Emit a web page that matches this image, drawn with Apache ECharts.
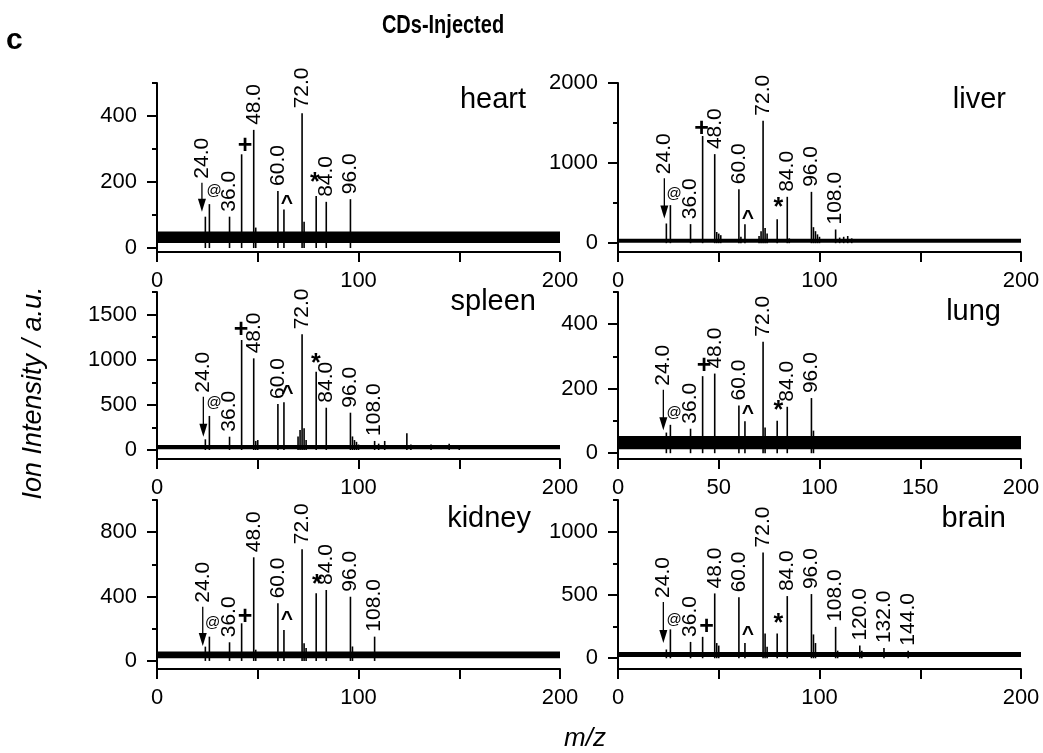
<!DOCTYPE html>
<html><head><meta charset="utf-8">
<script src="https://cdn.jsdelivr.net/npm/echarts@6/dist/echarts.min.js"></script>
<style>html,body{margin:0;padding:0;background:#fff}#c{width:1043px;height:753px}</style>
</head><body><div id="c"></div>
<script>
// ---------------- data ----------------
const panelNames = ['heart', 'liver', 'spleen', 'lung', 'kidney', 'brain'];
const titleText = 'CDs-Injected';
const panelLetter = 'c';
const yAxisTitle = 'Ion Intensity / a.u.';
const xAxisTitle = 'm/z';

const xTicks = [0, 50, 100, 150, 200];
const xLabelsStd = [0, 100, 200];
const xLabelsLung = [0, 50, 100, 150, 200];

// [m/z, intensity]
const heartPeaks = [[24,95],[26,133],[36,95],[42,284],[48,358],[49,62],[60,173],[63,117],[72,408],[73,80],[79,158],[84,140],[96,148]];
const liverPeaks = [[24,246],[26,475],[36,238],[42,1338],[48,1112],[49,140],[50,120],[51,100],[60,675],[61,80],[63,238],[70,90],[71,150],[72,1529],[73,190],[74,120],[79,300],[84,579],[85,60],[96,641],[97,200],[98,150],[99,110],[100,80],[108,171],[110,70],[112,80],[114,90],[116,60]];
const spleenPeaks = [[24,118],[26,377],[36,147],[42,1218],[48,1015],[49,100],[50,110],[60,509],[63,528],[70,150],[71,220],[72,1281],[73,240],[74,110],[79,867],[84,468],[96,413],[97,150],[98,110],[99,90],[100,60],[108,100],[110,70],[113,100],[124,185],[126,60],[136,60],[145,70],[150,50]];
const lungPeaks = [[24,64],[26,88],[36,76],[42,239],[48,247],[60,148],[63,99],[72,346],[73,80],[79,101],[84,144],[96,171],[97,70]];
const kidneyPeaks = [[24,89],[26,151],[36,116],[42,234],[48,644],[49,70],[60,358],[63,193],[72,694],[73,110],[74,80],[79,420],[84,441],[96,399],[97,90],[108,151]];
const brainPeaks = [[24,69],[26,228],[36,129],[42,169],[48,512],[49,120],[50,100],[60,481],[63,121],[72,836],[73,196],[74,90],[79,196],[84,491],[96,507],[97,188],[98,120],[108,248],[109,60],[120,100],[121,60],[132,80],[144,60]];

// labelled peaks (m/z)
const heartLabelled = [36,48,60,72,84,96];
const liverLabelled = [36,48,60,72,84,96,108];
const spleenLabelled = [36,48,60,72,84,96,108];
const lungLabelled = [36,48,60,72,84,96];
const kidneyLabelled = [36,48,60,72,84,96,108];
const brainLabelled = [36,48,60,72,84,96,108,120,132,144];

// marker symbols [m/z, intensity, symbol]
const heartMarks = [[28.3,174,'@'],[43.7,309,'+'],[64.4,136,'^'],[78.4,197,'*']];
const liverMarks = [[27.8,621,'@'],[41.5,1421,'+'],[64.4,316,'^'],[79.6,434,'*']];
const spleenMarks = [[28.3,517,'@'],[41.7,1329,'+'],[64.7,628,'^'],[78.8,952,'*']];
const lungMarks = [[27.8,126,'@'],[42.7,270,'+'],[64.4,124,'^'],[79.6,131,'*']];
const kidneyMarks = [[27.6,234,'@'],[43.7,275,'+'],[64.4,259,'^'],[79.3,472,'*']];
const brainMarks = [[27.8,301,'@'],[44,248,'+'],[64.4,190,'^'],[79.6,269,'*']];

// arrow [m/z, tail intensity, tip intensity, label]
const heartArrow = [22.3,198,110,'24.0'];
const liverArrow = [23,812,309,'24.0'];
const spleenArrow = [23,590,147,'24.0'];
const lungArrow = [22.5,197,71,'24.0'];
const kidneyArrow = [22.7,337,93,'24.0'];
const brainArrow = [22.5,445,121,'24.0'];

// baseline noise band [low, high]
const heartNoise = [15,50];
const liverNoise = [5,55];
const spleenNoise = [8,55];
const lungNoise = [12,53];
const kidneyNoise = [17,58];
const brainNoise = [10,50];

// y ranges and ticks
const heartY = [-12,500], heartYMajor = [0,200,400], heartYMinor = [100,300,500];
const liverY = [-110,2000], liverYMajor = [0,1000,2000], liverYMinor = [500,1500];
const spleenY = [-100,1750], spleenYMajor = [0,500,1000,1500], spleenYMinor = [250,750,1250,1750];
const lungY = [-18,500], lungYMajor = [0,200,400], lungYMinor = [100,300,500];
const kidneyY = [-50,1000], kidneyYMajor = [0,400,800], kidneyYMinor = [200,600,1000];
const brainY = [-85,1250], brainYMajor = [0,500,1000], brainYMinor = [250,750,1250];

// ---------------- layout ----------------
const FONT = 'Arial, "Liberation Sans", Helvetica, sans-serif';
const FS = 22;     // tick labels
const PFS = 21;    // peak labels
const NFS = 29;    // panel names
const TFS = 27;    // axis title
const colLeft = [157, 618];
const rowTop = [83, 292, 500];
const rowH = [169, 167, 169];
const gridW = 403;

const panels = [
  {peaks: heartPeaks, lab: heartLabelled, marks: heartMarks, arrow: heartArrow, noise: heartNoise, y: heartY, maj: heartYMajor, min: heartYMinor, xl: xLabelsStd},
  {peaks: liverPeaks, lab: liverLabelled, marks: liverMarks, arrow: liverArrow, noise: liverNoise, y: liverY, maj: liverYMajor, min: liverYMinor, xl: xLabelsStd},
  {peaks: spleenPeaks, lab: spleenLabelled, marks: spleenMarks, arrow: spleenArrow, noise: spleenNoise, y: spleenY, maj: spleenYMajor, min: spleenYMinor, xl: xLabelsStd},
  {peaks: lungPeaks, lab: lungLabelled, marks: lungMarks, arrow: lungArrow, noise: lungNoise, y: lungY, maj: lungYMajor, min: lungYMinor, xl: xLabelsLung},
  {peaks: kidneyPeaks, lab: kidneyLabelled, marks: kidneyMarks, arrow: kidneyArrow, noise: kidneyNoise, y: kidneyY, maj: kidneyYMajor, min: kidneyYMinor, xl: xLabelsStd},
  {peaks: brainPeaks, lab: brainLabelled, marks: brainMarks, arrow: brainArrow, noise: brainNoise, y: brainY, maj: brainYMajor, min: brainYMinor, xl: xLabelsStd}
];

const namePos = [[526,100],[1006,100],[536,302],[1001,312],[531,519],[1006,519]];

const grids = [], xAxes = [], yAxes = [], series = [], graphics = [];
const black = '#000';
const plain = v => String(v);

panels.forEach((p, i) => {
  const r = Math.floor(i / 2), c = i % 2;
  grids.push({left: colLeft[c], top: rowTop[r], width: gridW, height: rowH[r], containLabel: false});
  xAxes.push({
    gridIndex: i, type: 'value', min: 0, max: 200, interval: 50,
    axisLine: {onZero: false, lineStyle: {color: black, width: 2}},
    axisTick: {customValues: xTicks, inside: false, length: 10, lineStyle: {color: black, width: 2}},
    axisLabel: {customValues: p.xl, formatter: plain, margin: 18, fontSize: FS, color: black, fontFamily: FONT},
    splitLine: {show: false}
  });
  yAxes.push({
    gridIndex: i, type: 'value', position: 'left', min: p.y[0], max: p.y[1],
    axisLine: {show: true, onZero: false, lineStyle: {color: black, width: 2}},
    axisTick: {show: true, customValues: p.maj, length: 10, lineStyle: {color: black, width: 2}},
    axisLabel: {customValues: p.maj, formatter: plain, margin: 20, fontSize: FS, color: black, fontFamily: FONT},
    splitLine: {show: false}
  });
  yAxes.push({
    gridIndex: i, type: 'value', position: 'left', min: p.y[0], max: p.y[1],
    axisLine: {show: false, onZero: false},
    axisTick: {show: true, customValues: p.min, length: 5, lineStyle: {color: black, width: 2}},
    axisLabel: {show: false},
    splitLine: {show: false}
  });
  const yIdx = i * 2;
  series.push({
    type: 'bar', xAxisIndex: i, yAxisIndex: yIdx, data: p.peaks, barWidth: 1.6,
    itemStyle: {color: black}, silent: true, z: 3,
    label: {
      show: true, position: 'top', rotate: 90, align: 'left', verticalAlign: 'middle',
      distance: 5, fontSize: PFS, color: black, fontFamily: FONT,
      formatter: (prm) => p.lab.indexOf(prm.value[0]) >= 0 ? prm.value[0].toFixed(1) : ''
    },
    markArea: {
      silent: true, itemStyle: {color: black},
      data: [[{xAxis: 0, yAxis: p.noise[0]}, {xAxis: 200, yAxis: p.noise[1]}]]
    }
  });
  series.push({
    type: 'custom', xAxisIndex: i, yAxisIndex: yIdx, silent: true, z: 4,
    data: p.marks.map(m => [m[0], m[1]]),
    renderItem: (params, api) => {
      const m = p.marks[params.dataIndex];
      const pt = api.coord([m[0], m[1]]);
      const sym = m[2];
      const fs = sym === '@' ? 15 : (sym === '^' ? 21 : 25);
      return {type: 'text', x: pt[0], y: pt[1], style: {
        text: sym, fill: black, align: 'center', verticalAlign: 'middle',
        font: (sym === '@' ? 'normal ' : 'bold ') + fs + 'px ' + FONT}};
    }
  });
  series.push({
    type: 'custom', xAxisIndex: i, yAxisIndex: yIdx, silent: true, z: 4,
    data: [[p.arrow[0], p.arrow[1], p.arrow[2]]],
    renderItem: (params, api) => {
      const a = api.coord([api.value(0), api.value(1)]);
      const b = api.coord([api.value(0), api.value(2)]);
      const head = 13, hw = 4;
      return {type: 'group', children: [
        {type: 'line', shape: {x1: a[0], y1: a[1], x2: b[0], y2: b[1] - head + 2}, style: {stroke: black, lineWidth: 1.3}},
        {type: 'polygon', shape: {points: [[b[0] - hw, b[1] - head], [b[0] + hw, b[1] - head], [b[0], b[1]]]}, style: {fill: black}},
        {type: 'text', x: a[0], y: a[1] - 4, rotation: Math.PI / 2, style: {
          text: p.arrow[3], fill: black, align: 'left', verticalAlign: 'middle', font: PFS + 'px ' + FONT}}
      ]};
    }
  });
  graphics.push({type: 'text', x: namePos[i][0], y: namePos[i][1], style: {
    text: panelNames[i], fill: black, align: 'right', verticalAlign: 'middle', font: NFS + 'px ' + FONT}});
});

graphics.push({type: 'text', x: 6, y: 41, style: {text: panelLetter, fill: black, align: 'left', verticalAlign: 'middle',
  font: 'bold 30px ' + FONT}});
graphics.push({type: 'text', x: 443, y: 26, scaleX: 0.8, style: {text: titleText, fill: black, align: 'center', verticalAlign: 'middle',
  font: 'bold 25px ' + FONT}});
graphics.push({type: 'text', x: 33, y: 393, rotation: Math.PI / 2, style: {text: yAxisTitle, fill: black, align: 'center', verticalAlign: 'middle',
  font: 'italic ' + TFS + 'px ' + FONT}});
graphics.push({type: 'text', x: 585, y: 739, style: {text: xAxisTitle, fill: black, align: 'center', verticalAlign: 'middle',
  font: 'italic 26px ' + FONT}});

const chart = echarts.init(document.getElementById('c'), null, {renderer: 'canvas'});
chart.setOption({
  animation: false,
  backgroundColor: '#fff',
  textStyle: {fontFamily: FONT},
  grid: grids, xAxis: xAxes, yAxis: yAxes, series: series, graphic: graphics
});
</script></body></html>
